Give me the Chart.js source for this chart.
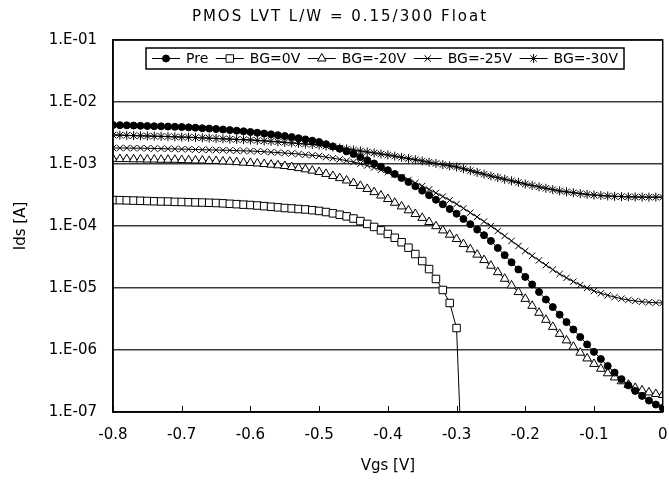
<!DOCTYPE html>
<html>
<head>
<meta charset="utf-8">
<title>PMOS LVT Ids-Vgs</title>
<script src="https://cdn.jsdelivr.net/npm/chart.js@4.4.0/dist/chart.umd.min.js"></script>
<style>
  html, body { margin: 0; padding: 0; background: #fff; }
  #wrap { width: 669px; height: 483px; }
</style>
</head>
<body>
<div id="wrap"><canvas id="ivChart" width="669" height="483"></canvas></div>
<script>
// Vgs sweep [V]
const vgs = [
  -0.80, -0.79, -0.78, -0.77, -0.76, -0.75, -0.74, -0.73, -0.72, -0.71,
  -0.70, -0.69, -0.68, -0.67, -0.66, -0.65, -0.64, -0.63, -0.62, -0.61,
  -0.60, -0.59, -0.58, -0.57, -0.56, -0.55, -0.54, -0.53, -0.52, -0.51,
  -0.50, -0.49, -0.48, -0.47, -0.46, -0.45, -0.44, -0.43, -0.42, -0.41,
  -0.40, -0.39, -0.38, -0.37, -0.36, -0.35, -0.34, -0.33, -0.32, -0.31,
  -0.30, -0.29, -0.28, -0.27, -0.26, -0.25, -0.24, -0.23, -0.22, -0.21,
  -0.20, -0.19, -0.18, -0.17, -0.16, -0.15, -0.14, -0.13, -0.12, -0.11,
  -0.10, -0.09, -0.08, -0.07, -0.06, -0.05, -0.04, -0.03, -0.02, -0.01,
  0.00
];

// Ids [A] for each condition
const idsPre = [
  4.26e-3, 4.23e-3, 4.20e-3, 4.17e-3, 4.13e-3, 4.10e-3, 4.07e-3, 4.05e-3, 4.02e-3, 3.98e-3,
  3.95e-3, 3.90e-3, 3.85e-3, 3.78e-3, 3.73e-3, 3.67e-3, 3.60e-3, 3.52e-3, 3.44e-3, 3.37e-3,
  3.28e-3, 3.19e-3, 3.10e-3, 3.01e-3, 2.92e-3, 2.83e-3, 2.72e-3, 2.61e-3, 2.49e-3, 2.38e-3,
  2.26e-3, 2.09e-3, 1.92e-3, 1.76e-3, 1.60e-3, 1.45e-3, 1.29e-3, 1.15e-3, 1.02e-3, 9.04e-4,
  7.94e-4, 6.89e-4, 5.96e-4, 5.13e-4, 4.39e-4, 3.72e-4, 3.14e-4, 2.65e-4, 2.24e-4, 1.88e-4,
  1.58e-4, 1.30e-4, 1.07e-4, 8.75e-5, 7.11e-5, 5.75e-5, 4.42e-5, 3.39e-5, 2.60e-5, 1.99e-5,
  1.51e-5, 1.14e-5, 8.63e-6, 6.52e-6, 4.92e-6, 3.72e-6, 2.82e-6, 2.14e-6, 1.62e-6, 1.23e-6,
  9.33e-7, 7.16e-7, 5.52e-7, 4.32e-7, 3.39e-7, 2.69e-7, 2.19e-7, 1.82e-7, 1.53e-7, 1.32e-7,
  1.17e-7
];

const idsBg0 = [
  2.62e-4, 2.61e-4, 2.59e-4, 2.57e-4, 2.55e-4, 2.53e-4, 2.51e-4, 2.49e-4, 2.48e-4, 2.45e-4,
  2.44e-4, 2.42e-4, 2.40e-4, 2.39e-4, 2.37e-4, 2.35e-4, 2.32e-4, 2.28e-4, 2.25e-4, 2.21e-4,
  2.18e-4, 2.14e-4, 2.09e-4, 2.04e-4, 2.00e-4, 1.95e-4, 1.92e-4, 1.88e-4, 1.85e-4, 1.80e-4,
  1.75e-4, 1.68e-4, 1.60e-4, 1.52e-4, 1.43e-4, 1.32e-4, 1.20e-4, 1.08e-4, 9.66e-5, 8.51e-5,
  7.45e-5, 6.46e-5, 5.47e-5, 4.47e-5, 3.53e-5, 2.72e-5, 2.02e-5, 1.40e-5, 9.29e-6, 5.73e-6,
  2.26e-6, 3.0e-9, null, null, null, null, null, null, null, null,
  null, null, null, null, null, null, null, null, null, null,
  null, null, null, null, null, null, null, null, null, null,
  null
];

const idsBg20 = [
  1.21e-3, 1.20e-3, 1.20e-3, 1.19e-3, 1.19e-3, 1.18e-3, 1.18e-3, 1.17e-3, 1.17e-3, 1.17e-3,
  1.16e-3, 1.15e-3, 1.14e-3, 1.14e-3, 1.12e-3, 1.12e-3, 1.10e-3, 1.09e-3, 1.07e-3, 1.05e-3,
  1.04e-3, 1.02e-3, 9.98e-4, 9.75e-4, 9.53e-4, 9.29e-4, 8.95e-4, 8.59e-4, 8.20e-4, 7.82e-4,
  7.43e-4, 6.92e-4, 6.41e-4, 5.92e-4, 5.42e-4, 4.94e-4, 4.44e-4, 3.96e-4, 3.52e-4, 3.10e-4,
  2.72e-4, 2.37e-4, 2.07e-4, 1.79e-4, 1.56e-4, 1.35e-4, 1.16e-4, 9.93e-5, 8.49e-5, 7.24e-5,
  6.17e-5, 5.11e-5, 4.21e-5, 3.45e-5, 2.82e-5, 2.29e-5, 1.80e-5, 1.41e-5, 1.10e-5, 8.59e-6,
  6.68e-6, 5.16e-6, 3.98e-6, 3.07e-6, 2.36e-6, 1.82e-6, 1.43e-6, 1.13e-6, 9.06e-7, 7.31e-7,
  5.96e-7, 4.98e-7, 4.21e-7, 3.61e-7, 3.13e-7, 2.75e-7, 2.45e-7, 2.23e-7, 2.07e-7, 1.95e-7,
  1.88e-7
];

const idsBg25 = [
  1.81e-3, 1.81e-3, 1.81e-3, 1.80e-3, 1.80e-3, 1.79e-3, 1.78e-3, 1.77e-3, 1.76e-3, 1.75e-3,
  1.74e-3, 1.73e-3, 1.71e-3, 1.70e-3, 1.69e-3, 1.68e-3, 1.67e-3, 1.66e-3, 1.64e-3, 1.63e-3,
  1.62e-3, 1.60e-3, 1.58e-3, 1.55e-3, 1.53e-3, 1.50e-3, 1.48e-3, 1.45e-3, 1.41e-3, 1.38e-3,
  1.35e-3, 1.29e-3, 1.24e-3, 1.19e-3, 1.13e-3, 1.08e-3, 1.01e-3, 9.44e-4, 8.75e-4, 8.07e-4,
  7.43e-4, 6.76e-4, 6.14e-4, 5.52e-4, 4.95e-4, 4.42e-4, 3.89e-4, 3.42e-4, 2.99e-4, 2.60e-4,
  2.26e-4, 1.93e-4, 1.64e-4, 1.40e-4, 1.18e-4, 1.00e-4, 8.32e-5, 6.92e-5, 5.75e-5, 4.76e-5,
  3.95e-5, 3.31e-5, 2.79e-5, 2.34e-5, 1.98e-5, 1.68e-5, 1.46e-5, 1.27e-5, 1.12e-5, 1.00e-5,
  8.95e-6, 8.22e-6, 7.62e-6, 7.13e-6, 6.73e-6, 6.40e-6, 6.17e-6, 6.00e-6, 5.87e-6, 5.79e-6,
  5.73e-6
];

const idsBg30 = [
  2.94e-3, 2.92e-3, 2.89e-3, 2.87e-3, 2.85e-3, 2.83e-3, 2.81e-3, 2.79e-3, 2.77e-3, 2.74e-3,
  2.72e-3, 2.70e-3, 2.67e-3, 2.64e-3, 2.61e-3, 2.58e-3, 2.55e-3, 2.52e-3, 2.49e-3, 2.47e-3,
  2.44e-3, 2.40e-3, 2.36e-3, 2.32e-3, 2.28e-3, 2.23e-3, 2.19e-3, 2.15e-3, 2.10e-3, 2.07e-3,
  2.02e-3, 1.95e-3, 1.88e-3, 1.81e-3, 1.75e-3, 1.68e-3, 1.62e-3, 1.56e-3, 1.51e-3, 1.45e-3,
  1.40e-3, 1.34e-3, 1.28e-3, 1.22e-3, 1.17e-3, 1.12e-3, 1.07e-3, 1.02e-3, 9.77e-4, 9.35e-4,
  8.95e-4, 8.38e-4, 7.83e-4, 7.31e-4, 6.84e-4, 6.40e-4, 6.03e-4, 5.68e-4, 5.35e-4, 5.05e-4,
  4.75e-4, 4.51e-4, 4.28e-4, 4.06e-4, 3.86e-4, 3.67e-4, 3.55e-4, 3.44e-4, 3.33e-4, 3.24e-4,
  3.16e-4, 3.10e-4, 3.05e-4, 3.01e-4, 2.98e-4, 2.95e-4, 2.94e-4, 2.93e-4, 2.92e-4, 2.92e-4,
  2.92e-4
];

const seriesLabels = ["Pre", "BG=0V", "BG=-20V", "BG=-25V", "BG=-30V"];
const yDecades = [1e-7, 1e-6, 1e-5, 1e-4, 1e-3, 1e-2, 1e-1];
const chartTitle = "PMOS LVT L/W = 0.15/300 Float";

const FONT = '"DejaVu Sans", "Liberation Sans", sans-serif';
const Y_MIN = 1e-7;

Chart.defaults.font.family = FONT;
Chart.defaults.color = "#000";

const toPoints = (arr) => vgs.map((v, i) => ({ x: v, y: arr[i] }));

// hide markers that fall below the axis (curve still runs down to the edge)
const markerRadius = (r) => (ctx) => (ctx.raw && ctx.raw.y >= Y_MIN ? r : 0);

const makeSet = (label, arr, style, r, fill) => ({
  label,
  data: toPoints(arr),
  showLine: true,
  borderColor: "#000",
  borderWidth: 1,
  pointStyle: style,
  legendRadius: r,
  pointRadius: markerRadius(r),
  pointHoverRadius: markerRadius(r),
  pointBackgroundColor: fill,
  pointBorderColor: "#000",
  pointBorderWidth: 1,
});

// white page background + spaced-out title above the plot
const backdrop = {
  id: "backdrop",
  beforeDraw(chart) {
    const ctx = chart.ctx;
    ctx.save();
    ctx.fillStyle = "#fff";
    ctx.fillRect(0, 0, chart.width, chart.height);
    ctx.fillStyle = "#000";
    ctx.font = "15px " + FONT;
    ctx.letterSpacing = "2px";
    ctx.textAlign = "center";
    ctx.textBaseline = "middle";
    ctx.fillText(chartTitle, 340, 17);
    ctx.restore();
  },
};

// plot frame + inward tick marks on the x axis
const plotFrame = {
  id: "plotFrame",
  afterDraw(chart) {
    const { ctx, chartArea: a } = chart;
    const xs = chart.scales.x;
    ctx.save();
    ctx.strokeStyle = "#000";
    ctx.lineWidth = 1.5;
    ctx.strokeRect(a.left, a.top, a.right - a.left, a.bottom - a.top);
    ctx.lineWidth = 1;
    xs.ticks.forEach((t) => {
      const px = Math.round(xs.getPixelForValue(t.value)) + 0.5;
      ctx.beginPath();
      ctx.moveTo(px, a.bottom);
      ctx.lineTo(px, a.bottom - 6);
      ctx.stroke();
    });
    ctx.restore();
  },
};

// boxed legend drawn inside the top of the plot, one row
const insideLegend = {
  id: "insideLegend",
  afterDraw(chart) {
    const ctx = chart.ctx;
    const box = { left: 146, top: 48, right: 624, bottom: 69 };
    const lineLen = 28;
    const textGap = 6;
    const pad = 6;
    ctx.save();
    ctx.fillStyle = "#fff";
    ctx.fillRect(box.left, box.top, box.right - box.left, box.bottom - box.top);
    ctx.strokeStyle = "#000";
    ctx.lineWidth = 1.5;
    ctx.strokeRect(box.left, box.top, box.right - box.left, box.bottom - box.top);

    ctx.font = "14px " + FONT;
    ctx.textBaseline = "middle";
    const items = chart.data.datasets.map((ds) => ({
      ds,
      w: lineLen + textGap + ctx.measureText(ds.label).width,
    }));
    const used = items.reduce((s, it) => s + it.w, 0);
    const gap = Math.max(4, (box.right - box.left - 2 * pad - used) / (items.length - 1));
    const y = (box.top + box.bottom) / 2;
    let x = box.left + pad;
    items.forEach(({ ds, w }) => {
      ctx.strokeStyle = "#000";
      ctx.lineWidth = 1;
      ctx.beginPath();
      ctx.moveTo(x, y);
      ctx.lineTo(x + lineLen, y);
      ctx.stroke();
      ctx.fillStyle = ds.pointBackgroundColor;
      Chart.helpers.drawPoint(
        ctx,
        { pointStyle: ds.pointStyle, radius: ds.legendRadius, rotation: 0, borderWidth: 1 },
        x + lineLen / 2,
        y
      );
      ctx.fillStyle = "#000";
      ctx.fillText(ds.label, x + lineLen + textGap, y + 1);
      x += w + gap;
    });
    ctx.restore();
  },
};

const expLabel = (v) => {
  const e = Math.round(Math.log10(v));
  return "1.E" + (e < 0 ? "-" : "+") + String(Math.abs(e)).padStart(2, "0");
};

new Chart(document.getElementById("ivChart"), {
  type: "scatter",
  data: {
    datasets: [
      makeSet(seriesLabels[0], idsPre, "circle", 3.5, "#000"),
      makeSet(seriesLabels[1], idsBg0, "rect", 5.3, "#fff"),
      makeSet(seriesLabels[2], idsBg20, "triangle", 5, "#fff"),
      makeSet(seriesLabels[3], idsBg25, "crossRot", 4.5, "#fff"),
      makeSet(seriesLabels[4], idsBg30, "star", 4.5, "#fff"),
    ],
  },
  options: {
    responsive: false,
    animation: false,
    devicePixelRatio: 1,
    layout: { padding: { left: 0, right: 2, top: 40, bottom: 0 } },
    plugins: {
      legend: { display: false },
      tooltip: { enabled: false },
      title: { display: false },
    },
    scales: {
      x: {
        type: "linear",
        min: -0.8,
        max: 0,
        ticks: {
          stepSize: 0.1,
          padding: 14,
          font: { size: 15 },
          color: "#000",
          maxRotation: 0,
          callback: (v) => (Math.abs(v) < 1e-9 ? "0" : Number(v).toFixed(1)),
        },
        grid: { display: false, drawTicks: false },
        border: { display: true, color: "#000", width: 1.5 },
        title: {
          display: true,
          text: "Vgs [V]",
          font: { size: 15 },
          color: "#000",
          padding: { top: 0, bottom: 8 },
        },
        afterFit(scale) {
          scale.height = 71;
          scale.paddingLeft = 0;
          scale.paddingRight = 0;
        },
      },
      y: {
        type: "logarithmic",
        min: 1e-7,
        max: 1e-1,
        afterBuildTicks(scale) {
          scale.ticks = yDecades.map((v) => ({ value: v }));
        },
        ticks: {
          padding: 16,
          font: { size: 15 },
          color: "#000",
          autoSkip: false,
          callback: (v) => expLabel(v),
        },
        grid: { color: "#3a3a3a", lineWidth: 1.5, drawTicks: false },
        border: { display: true, color: "#000", width: 1.5 },
        title: {
          display: true,
          text: "Ids [A]",
          font: { size: 15 },
          color: "#000",
          padding: { top: 12, bottom: 0 },
        },
        afterFit(scale) {
          scale.width = 113;
        },
      },
    },
  },
  plugins: [backdrop, plotFrame, insideLegend],
});
</script>
</body>
</html>
